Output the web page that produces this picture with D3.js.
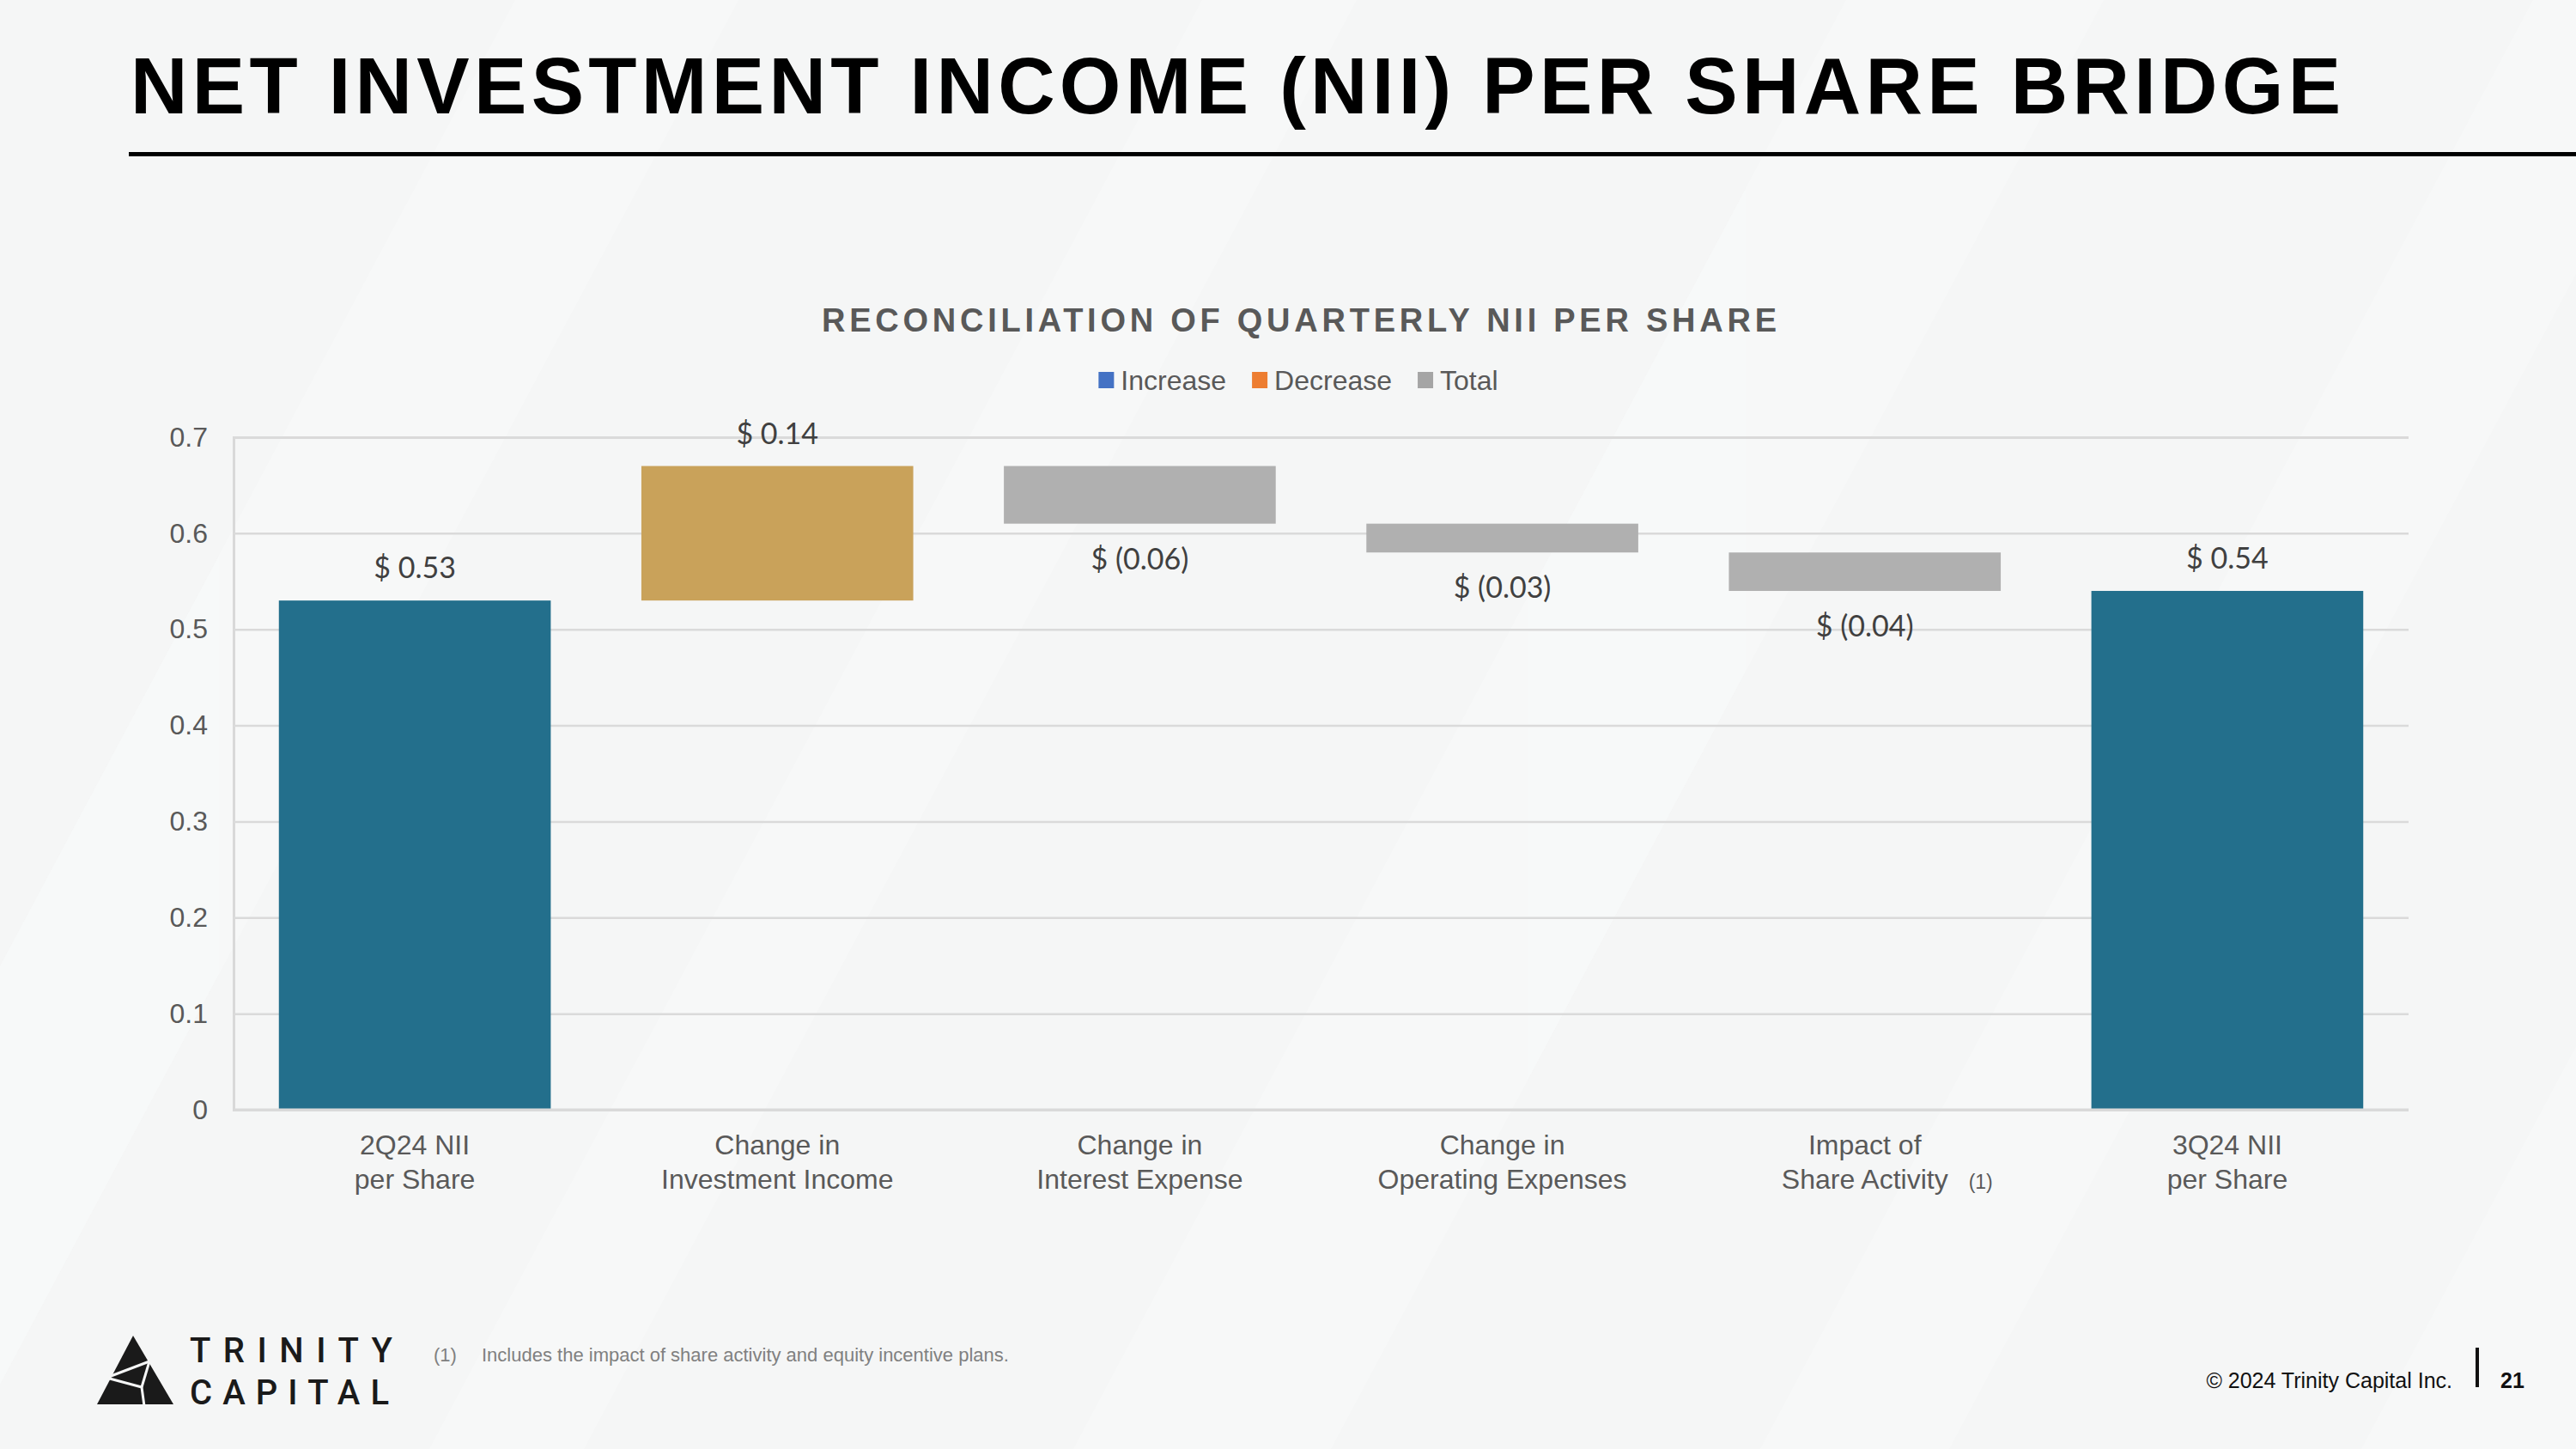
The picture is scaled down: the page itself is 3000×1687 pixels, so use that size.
<!DOCTYPE html>
<html>
<head>
<meta charset="utf-8">
<script src="https://cdn.jsdelivr.net/npm/d3@7"></script>
<style>
  html, body { margin: 0; padding: 0; background: #F5F6F6; }
  svg { display: block; }
</style>
</head>
<body>
<script>
// ---------- DATA ----------
const categories = ["2Q24 NII per Share", "Change in Investment Income", "Change in Interest Expense", "Change in Operating Expenses", "Impact of Share Activity", "3Q24 NII per Share"];
const categoryLines = [["2Q24 NII", "per Share"], ["Change in", "Investment Income"], ["Change in", "Interest Expense"], ["Change in", "Operating Expenses"], ["Impact of", "Share Activity"], ["3Q24 NII", "per Share"]];
const categoryNotes = ["", "", "", "", "(1)", ""];
const values = [0.53, 0.14, -0.06, -0.03, -0.04, 0.54];
const kinds = ["total", "increase", "decrease", "decrease", "decrease", "total"];
const valueLabels = ["$ 0.53", "$ 0.14", "$ (0.06)", "$ (0.03)", "$ (0.04)", "$ 0.54"];
const yTicks = [0, 0.1, 0.2, 0.3, 0.4, 0.5, 0.6, 0.7];
const legendItems = ["Increase", "Decrease", "Total"];
const titleText = "NET INVESTMENT INCOME (NII) PER SHARE BRIDGE";
const subtitleText = "RECONCILIATION OF QUARTERLY NII PER SHARE";
const footnoteText = "Includes the impact of share activity and equity incentive plans.";
const copyrightText = "© 2024 Trinity Capital Inc.";
const pageNumber = "21";

// ---------- STYLE ----------
const W = 3000, H = 1687;
const barColors = { total: "#236F8C", increase: "#C9A25A", decrease: "#B0B0B0" };
const legendColors = { Increase: "#4472C4", Decrease: "#ED7D31", Total: "#A5A5A5" };
const FONT = "Liberation Sans, Arial, sans-serif";

const svg = d3.select("body").append("svg").attr("width", W).attr("height", H);

// background with faint diagonal bands
svg.append("rect").attr("width", W).attr("height", H).attr("fill", "#F5F6F6");
const bands = svg.append("g").attr("opacity", 0.5);
[[-300, 260], [500, 180], [1250, 300], [2050, 220], [2750, 260]].forEach(([x0, w]) => {
  bands.append("polygon")
    .attr("points", `${x0},${H} ${x0 + w},${H} ${x0 + w + 900},0 ${x0 + 900},0`)
    .attr("fill", "#FAFBFB");
});

// ---------- TITLE ----------
svg.append("text")
  .attr("x", 152).attr("y", 132)
  .attr("font-family", FONT)
  .attr("font-weight", "bold").attr("font-size", 92)
  .attr("fill", "#000")
  .attr("textLength", 2574).attr("lengthAdjust", "spacing")
  .text(titleText);
svg.append("rect").attr("x", 150).attr("y", 177).attr("width", W - 150).attr("height", 5).attr("fill", "#000");

// subtitle
svg.append("text")
  .attr("x", 957).attr("y", 386)
  .attr("font-family", FONT)
  .attr("font-weight", "bold").attr("font-size", 38)
  .attr("fill", "#595959")
  .attr("textLength", 1112).attr("lengthAdjust", "spacing")
  .text(subtitleText);

// legend
const legend = svg.append("g");
let lx = 0;
legendItems.forEach((name) => {
  const g = legend.append("g").attr("transform", `translate(${lx},0)`);
  g.append("rect").attr("x", 0).attr("y", 433).attr("width", 18).attr("height", 19).attr("fill", legendColors[name]);
  const t = g.append("text").attr("x", 26).attr("y", 454)
    .attr("font-family", FONT).attr("font-size", 32)
    .attr("fill", "#595959").text(name);
  lx += 26 + t.node().getComputedTextLength() + 30;
});
const legendW = lx - 30;
legend.attr("transform", `translate(${1512 - legendW / 2},0)`);

// ---------- CHART ----------
const plotLeft = 272, plotRight = 2805, plotTop = 509, plotBottom = 1292;
const x = d3.scaleBand().domain(categories).range([plotLeft, plotRight]).paddingInner(0.25).paddingOuter(0.125);
const y = d3.scaleLinear().domain([0, 0.7]).range([plotBottom, plotTop]);

// waterfall start/end
let running = 0;
const bars = values.map((v, i) => {
  let start, end;
  if (kinds[i] === "total") { start = 0; end = v; running = v; }
  else { start = running; end = running + v; running = end; }
  return { cat: categories[i], kind: kinds[i], start, end, label: valueLabels[i], v };
});

// gridlines + y axis
const yAxis = d3.axisLeft(y).tickValues(yTicks).tickSize(-(plotRight - plotLeft)).tickFormat(d3.format("~g")).tickPadding(30);
const gy = svg.append("g").attr("transform", `translate(${plotLeft},0)`).call(yAxis);
gy.select(".domain").attr("stroke", "#D9D9D9").attr("stroke-width", 3);
gy.selectAll(".tick line").attr("stroke", "#DADADA").attr("stroke-width", 2.5);
gy.selectAll(".tick text")
  .attr("font-family", FONT).attr("font-size", 32)
  .attr("fill", "#595959");

// bars
svg.append("g").selectAll("rect").data(bars).join("rect")
  .attr("x", d => x(d.cat))
  .attr("width", x.bandwidth())
  .attr("y", d => y(Math.max(d.start, d.end)))
  .attr("height", d => Math.abs(y(d.start) - y(d.end)))
  .attr("fill", d => barColors[d.kind]);

// bottom axis line
svg.append("line").attr("x1", plotLeft).attr("x2", plotRight).attr("y1", plotBottom).attr("y2", plotBottom)
  .attr("stroke", "#D9D9D9").attr("stroke-width", 3);

// value labels
svg.append("g").selectAll("text").data(bars).join("text")
  .attr("x", d => x(d.cat) + x.bandwidth() / 2)
  .attr("y", d => d.v >= 0 ? y(Math.max(d.start, d.end)) - 26 : y(Math.min(d.start, d.end)) + 53)
  .attr("text-anchor", "middle")
  .attr("font-family", "Lato, 'Open Sans', sans-serif").attr("font-size", 34)
  .attr("fill", "#404040")
  .text(d => d.label);

// category labels
const xl = svg.append("g");
categories.forEach((c, i) => {
  const cx = x(c) + x.bandwidth() / 2;
  categoryLines[i].forEach((line, j) => {
    const t = xl.append("text").attr("x", cx).attr("y", 1344 + j * 40)
      .attr("text-anchor", "middle")
      .attr("font-family", FONT).attr("font-size", 32)
      .attr("fill", "#595959").text(line);
    if (j === 1 && categoryNotes[i]) {
      const w = t.node().getComputedTextLength();
      xl.append("text").attr("x", cx + w / 2 + 24).attr("y", 1384)
        .attr("font-family", FONT).attr("font-size", 23)
        .attr("fill", "#595959").text(categoryNotes[i]);
    }
  });
});

// ---------- FOOTER ----------
// logo
const logo = svg.append("g");
logo.append("polygon").attr("points", "155,1555 113,1635 202,1635").attr("fill", "#1a1a1a");
logo.append("polyline").attr("points", "124,1604 174,1585").attr("stroke", "#F5F6F6").attr("stroke-width", 3).attr("fill", "none");
logo.append("polyline").attr("points", "124,1604 165,1615 168,1637").attr("stroke", "#F5F6F6").attr("stroke-width", 3).attr("fill", "none");
logo.append("polyline").attr("points", "174,1585 165,1615").attr("stroke", "#F5F6F6").attr("stroke-width", 3).attr("fill", "none");
logo.append("text").attr("x", 221).attr("y", 1586)
  .attr("font-family", "Roboto, 'Liberation Sans', sans-serif").attr("font-weight", 500).attr("font-size", 40)
  .attr("fill", "#1a1a1a").attr("textLength", 236).attr("lengthAdjust", "spacing").text("TRINITY");
logo.append("text").attr("x", 221).attr("y", 1635)
  .attr("font-family", "Roboto, 'Liberation Sans', sans-serif").attr("font-weight", 500).attr("font-size", 40)
  .attr("fill", "#1a1a1a").attr("textLength", 232).attr("lengthAdjust", "spacing").text("CAPITAL");

// footnote
svg.append("text").attr("x", 505).attr("y", 1585)
  .attr("font-family", FONT).attr("font-size", 22)
  .attr("fill", "#808080").text("(1)");
svg.append("text").attr("x", 561).attr("y", 1585)
  .attr("font-family", FONT).attr("font-size", 22)
  .attr("fill", "#808080").text(footnoteText);

// copyright + page
svg.append("text").attr("x", 2856).attr("y", 1616).attr("text-anchor", "end")
  .attr("font-family", FONT).attr("font-size", 25)
  .attr("fill", "#111").text(copyrightText);
svg.append("rect").attr("x", 2883).attr("y", 1569).attr("width", 4).attr("height", 46).attr("fill", "#111");
svg.append("text").attr("x", 2912).attr("y", 1616)
  .attr("font-family", FONT).attr("font-weight", "bold").attr("font-size", 25)
  .attr("fill", "#111").text(pageNumber);
</script>
</body>
</html>
